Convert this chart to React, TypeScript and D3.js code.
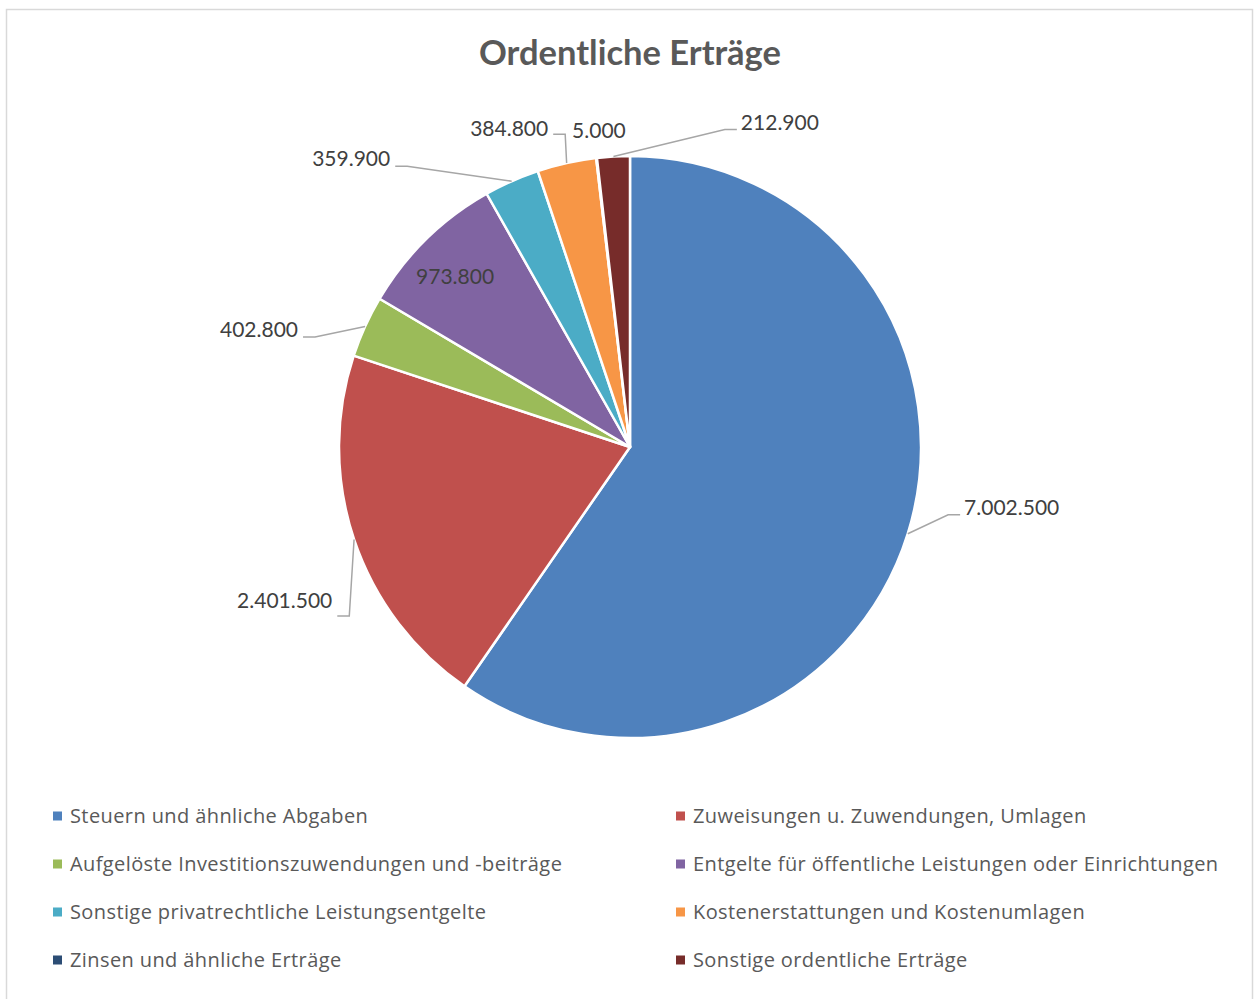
import * as d3 from "d3";

const categories = [
  "Steuern und ähnliche Abgaben",
  "Zuweisungen u. Zuwendungen, Umlagen",
  "Aufgelöste Investitionszuwendungen und -beiträge",
  "Entgelte für öffentliche Leistungen oder Einrichtungen",
  "Sonstige privatrechtliche Leistungsentgelte",
  "Kostenerstattungen und Kostenumlagen",
  "Zinsen und ähnliche Erträge",
  "Sonstige ordentliche Erträge",
];

const values = [7002500, 2401500, 402800, 973800, 359900, 384800, 5000, 212900];

const colors = [
  "#4F81BD",
  "#C0504D",
  "#9BBB59",
  "#8064A2",
  "#4BACC6",
  "#F79646",
  "#2C4D75",
  "#772C2A",
];

// label placement (polar, degrees clockwise from 12 o'clock), like Excel's manual layout
const labelLayout = [
  { angle: 101.6, radius: 337, leader: true, dy: -7 },
  { angle: 240.0, radius: 338, leader: true, dy: -15 },
  { angle: 288.6, radius: 345, leader: true, dy: -7 },
  { angle: 314.2, radius: 244, leader: false, dy: 0 },
  { angle: 320.1, radius: 366, leader: true, dy: -8 },
  { angle: 346.2, radius: 322, leader: true, dy: -6 },
  { angle: 354.4, radius: 318, leader: false, dy: 0 },
  { angle: 18.6, radius: 335, leader: true, dy: -7 },
];

const W = 1254;
const H = 999;
const cx = 630;
const cy = 447;
const R = 291;
const FONT = "Lato, 'Open Sans', sans-serif";
const LEGEND_FONT = "'Open Sans', Lato, sans-serif";

const fmt = (v: number) => d3.format(",")(v).replace(/,/g, ".");

const polar = (deg: number, r: number): [number, number] => {
  const a = (deg * Math.PI) / 180;
  return [cx + r * Math.sin(a), cy - r * Math.cos(a)];
};

export default function App() {
  const pie = d3
    .pie<number>()
    .sort(null)
    .value((d) => d)
    .startAngle(0)
    .endAngle(2 * Math.PI);
  const arcs = pie(values);
  const arc = d3.arc<d3.PieArcDatum<number>>().innerRadius(0).outerRadius(R);

  const legendCol = d3.scaleOrdinal<number, number>().domain([0, 1]).range([53, 676]);
  const legendRow = d3.scaleLinear().domain([0, 1]).range([816, 864]);

  return (
    <div style={{ position: "absolute", left: 0, top: 0 }}>
      <svg width={W} height={H} style={{ display: "block", fontFamily: FONT }}>
        <rect x={0} y={0} width={W} height={H} fill="#fff" />
        <rect
          x={6.5}
          y={9.5}
          width={1246}
          height={1000}
          fill="none"
          stroke="#d9d9d9"
          strokeWidth={1.5}
        />
        <text
          x={cx}
          y={65}
          textAnchor="middle"
          fontSize={34.5}
          fontWeight="bold"
          fill="#595959"
        >
          Ordentliche Erträge
        </text>

        <g transform={`translate(${cx},${cy})`}>
          {arcs.map((a, i) => (
            <path
              key={i}
              d={arc(a) || ""}
              fill={colors[i]}
              stroke="#fff"
              strokeWidth={2.5}
              strokeLinejoin="round"
            />
          ))}
        </g>

        {arcs.map((a, i) => {
          const L = labelLayout[i];
          const mid = (((a.startAngle + a.endAngle) / 2) * 180) / Math.PI;
          const label = fmt(values[i]);
          const [ex, ey] = polar(L.angle, L.radius);
          if (!L.leader) {
            return (
              <text
                key={i}
                x={ex}
                y={ey}
                dy="0.35em"
                textAnchor="middle"
                fontSize={21}
                fill="#404040"
              >
                {label}
              </text>
            );
          }
          const right = ex > cx;
          const [sx, sy] = polar(mid, R);
          const kx = ex + (right ? -12 : 12);
          const pts: [number, number][] = [
            [sx, sy],
            [kx, ey],
            [ex, ey],
          ];
          return (
            <g key={i}>
              <path
                d={d3.line()(pts) || ""}
                fill="none"
                stroke="#a6a6a6"
                strokeWidth={1.5}
              />
              <text
                x={ex + (right ? 4 : -5)}
                y={ey + L.dy}
                dy="0.35em"
                textAnchor={right ? "start" : "end"}
                fontSize={21}
                fill="#404040"
              >
                {label}
              </text>
            </g>
          );
        })}

        {categories.map((c, i) => {
          const col = i % 2;
          const row = Math.floor(i / 2);
          const x = legendCol(col);
          const y = legendRow(row);
          return (
            <g key={c}>
              <rect x={x} y={y - 4.5} width={9} height={9} fill={colors[i]} />
              <text
                x={x + 17}
                y={y}
                dy="0.35em"
                fontSize={20}
                letterSpacing={0.4}
                fontFamily={LEGEND_FONT}
                fill="#595959"
              >
                {c}
              </text>
            </g>
          );
        })}
      </svg>
    </div>
  );
}
